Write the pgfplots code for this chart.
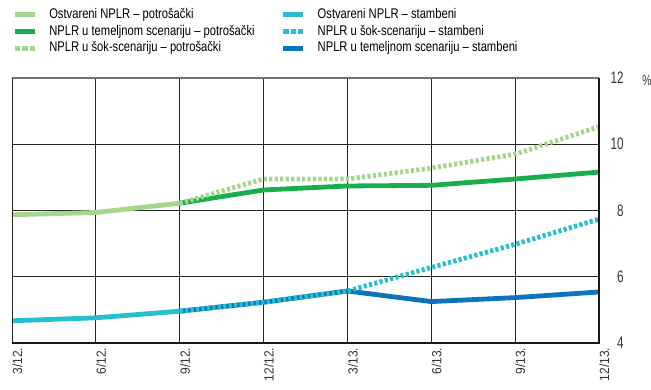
\documentclass[border=0pt]{standalone}
\usepackage{fontspec}
\setmainfont[FakeStretch=0.8]{Liberation Sans}
\newfontfamily\yfont[FakeStretch=0.7]{Liberation Sans}
\newfontfamily\xfont[FakeStretch=0.9]{Liberation Sans}
\usepackage{pgfplots}
\pgfplotsset{compat=1.18}
\usepackage{pgfplotstable}
\definecolor{lgreen}{HTML}{A6D58E}
\definecolor{dgreen}{HTML}{17AE4B}
\definecolor{cyanc}{HTML}{27BECE}
\definecolor{bluec}{HTML}{0A74BD}
\definecolor{txt}{HTML}{333333}

\pgfplotstableread{
x y
0 7.87
1 7.94
2 8.22
}\consact
\pgfplotstableread{
x y
2 8.22
3 8.62
4 8.74
5 8.76
6 8.95
7 9.16
}\consbase
\pgfplotstableread{
x y
2 8.22
3 8.95
4 8.95
5 9.28
6 9.70
7 10.53
}\consshock
\pgfplotstableread{
x y
0 4.67
1 4.76
2 4.96
}\housact
\pgfplotstableread{
x y
2 4.96
3 5.23
4 5.57
5 5.25
6 5.37
7 5.54
}\housbase
\pgfplotstableread{
x y
2 4.96
3 5.23
4 5.57
5 6.28
6 6.98
7 7.74
}\housshock

\tikzset{
  solidln/.style={line width=3.6pt, line join=round},
  dotln/.style={line width=3.6pt, dash pattern=on 2.4pt off 1.7pt},
}

\begin{document}
\begin{tikzpicture}
\begin{axis}[
  scale only axis, width=440.25pt, height=198.75pt,
  xmin=0, xmax=7, ymin=4, ymax=12,
  clip=false,
  xtick={0,...,7},
  xticklabels={3/12.,6/12.,9/12.,12/12.,3/13.,6/13.,9/13.,12/13.},
  xticklabel style={rotate=90, anchor=east, yshift=-4pt, font=\xfont\fontsize{10}{12}\selectfont, text=txt},
  ytick={4,6,8,10,12},
  yticklabel pos=right,
  yticklabel style={anchor=east, xshift=22pt, font=\yfont\fontsize{12.5}{14}\selectfont, text=txt},
  /pgf/number format/assume math mode=true,
  grid=major,
  major grid style={black!85, line width=0.6pt},
  major tick length=0pt,
  axis line style={draw=none},
  legend columns=2,
  legend cell align=left,
  legend image code/.code={\draw[#1, line cap=butt] (0pt,0pt) -- (15pt,0pt);},
  legend style={draw=none, fill=none, at={(0,1)}, anchor=south west, xshift=0pt, yshift=16pt,
    inner sep=0pt, font=\fontsize{10.5}{12}\selectfont,
    nodes={inner sep=1pt, text height=8pt, text depth=2.5pt},
    /tikz/every odd column/.append style={column sep=8pt},
    /tikz/every even column/.append style={column sep=18.5pt}},
]
\addlegendimage{lgreen, line width=3.75pt}
\addlegendentry{Ostvareni NPLR – potrošački}
\addlegendimage{cyanc, line width=3.75pt}
\addlegendentry{Ostvareni NPLR – stambeni}
\addlegendimage{dgreen, line width=3.75pt}
\addlegendentry{NPLR u temeljnom scenariju – potrošački}
\addlegendimage{cyanc, line width=3.75pt, dash pattern=on 4pt off 1.6pt}
\addlegendentry{NPLR u šok-scenariju – stambeni}
\addlegendimage{lgreen, line width=3.75pt, dash pattern=on 4pt off 1.6pt}
\addlegendentry{NPLR u šok-scenariju – potrošački}
\addlegendimage{bluec, line width=3.75pt}
\addlegendentry{NPLR u temeljnom scenariju – stambeni}

\addplot[forget plot, dgreen, solidln] table[x=x,y=y] {\consbase};
\addplot[forget plot, lgreen, dotln] table[x=x,y=y] {\consshock};
\addplot[forget plot, lgreen, solidln] table[x=x,y=y] {\consact};
\addplot[forget plot, bluec, solidln] table[x=x,y=y] {\housbase};
\addplot[forget plot, cyanc, dotln] table[x=x,y=y] {\housshock};
\addplot[forget plot, cyanc, solidln] table[x=x,y=y] {\housact};

\draw[black!55, line width=0.9pt] (rel axis cs:0,1) -- (rel axis cs:1,1);
\draw[black!85, line width=0.6pt] (rel axis cs:0,0) -- (rel axis cs:0,1);
\draw[black!90, line width=1.5pt] (rel axis cs:0,0) -- (rel axis cs:1,0) -- (rel axis cs:1,1);
\node[text=txt, font=\yfont\fontsize{11}{12}\selectfont] at ([xshift=36pt, yshift=-1.5pt]rel axis cs:1,1) {\%};
\coordinate (BL) at (rel axis cs:0,0);
\coordinate (TR) at (rel axis cs:1,1);
\end{axis}
\pgfresetboundingbox
\path ([xshift=-9pt,yshift=-35.25pt]BL) rectangle ([xshift=39pt,yshift=58.5pt]TR);
\end{tikzpicture}
\end{document}
